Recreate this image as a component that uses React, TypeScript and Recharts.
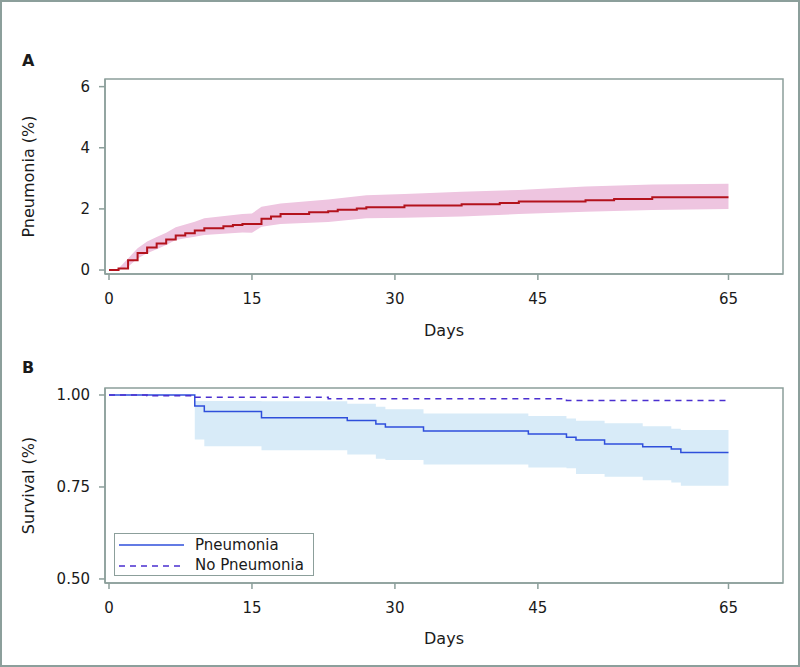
import {
  Area,
  ComposedChart,
  Line,
  ReferenceArea,
  XAxis,
  YAxis,
} from "recharts";

// Panel A: cumulative incidence of pneumonia (%), step curve + CI band
const A_DAYS = [0, 1, 2, 3, 4, 5, 6, 7, 8, 9, 10, 12, 13, 14, 16, 17, 18, 21, 23, 24, 26, 27, 31, 37, 41, 43, 50, 53, 57, 65];
const A_PCT = [0, 0.05, 0.32, 0.56, 0.74, 0.87, 1.0, 1.13, 1.2, 1.29, 1.37, 1.43, 1.47, 1.51, 1.68, 1.75, 1.83, 1.89, 1.92, 1.97, 2.01, 2.05, 2.11, 2.15, 2.19, 2.24, 2.28, 2.32, 2.38, 2.38];

const A_BAND_DAYS = [1, 2, 3, 4, 5, 6, 7, 8, 9, 10, 14, 15, 16, 18, 23, 27, 31, 37, 43, 50, 57, 65];
const A_BAND_LO = [0, 0.11, 0.38, 0.55, 0.68, 0.82, 0.98, 1.04, 1.09, 1.15, 1.23, 1.22, 1.42, 1.51, 1.57, 1.69, 1.71, 1.75, 1.83, 1.91, 1.96, 2.0];
const A_BAND_HI = [0.05, 0.38, 0.71, 0.93, 1.08, 1.22, 1.4, 1.49, 1.58, 1.69, 1.83, 1.85, 2.07, 2.18, 2.31, 2.45, 2.49, 2.56, 2.62, 2.73, 2.8, 2.82];

// Panel B: survival, pneumonia vs no pneumonia
const B_PNEU_DAYS = [0, 9, 10, 16, 25, 28, 29, 33, 44, 48, 49, 52, 56, 59, 60, 65];
const B_PNEU_SURV = [1.0, 0.97, 0.955, 0.938, 0.931, 0.921, 0.913, 0.902, 0.894, 0.885, 0.878, 0.867, 0.859, 0.853, 0.844, 0.844];

const B_BAND_DAYS = [9, 10, 16, 25, 28, 29, 33, 44, 48, 49, 52, 56, 59, 60, 65];
const B_BAND_LO = [0.879, 0.861, 0.85, 0.838, 0.827, 0.823, 0.811, 0.803, 0.801, 0.785, 0.778, 0.768, 0.762, 0.753, 0.753];
const B_BAND_HI = [0.984, 0.984, 0.983, 0.976, 0.968, 0.961, 0.95, 0.943, 0.936, 0.93, 0.923, 0.915, 0.908, 0.905, 0.905];

const B_NOPNEU_DAYS = [0, 4, 9, 23, 48, 65];
const B_NOPNEU_SURV = [1.0, 0.998, 0.994, 0.99, 0.985, 0.985];

const SERIES_NAMES = ["Pneumonia", "No Pneumonia"];

const X_TICKS = [0, 15, 30, 45, 65];
const A_TICKS = [0, 2, 4, 6];
const B_TICKS = [0.5, 0.75, 1.0];

const X_DOMAIN: [number, number] = [-0.42, 70.72];
const A_DOMAIN: [number, number] = [-0.13, 6.25];
const B_DOMAIN: [number, number] = [0.489, 1.019];

const AXIS = "#8c9f9b";
const TEXT = "#1a1a1a";
const RED = "#b3121c";
const PINK = "#eec5e0";
const BLUE = "#2f4fdb";
const PURPLE = "#4a2fd0";
const SKY = "#d8ebf8";
const FONT = "'DejaVu Sans', Verdana, sans-serif";
const DASH = "6 5";

const aLine = A_DAYS.map((day, i) => ({ day, pct: A_PCT[i] }));
const aBand = A_BAND_DAYS.map((day, i) => ({ day, lo: A_BAND_LO[i], hi: A_BAND_HI[i] }));
const bPneu = B_PNEU_DAYS.map((day, i) => ({ day, surv: B_PNEU_SURV[i] }));
const bBand = B_BAND_DAYS.map((day, i) => ({ day, lo: B_BAND_LO[i], hi: B_BAND_HI[i] }));
const bNo = B_NOPNEU_DAYS.map((day, i) => ({ day, surv: B_NOPNEU_SURV[i] }));

const tickStyle = { fill: TEXT, fontSize: 15, fontFamily: FONT };

function xAxis(height: number, offset: number) {
  return (
    <XAxis
      type="number"
      dataKey="day"
      domain={X_DOMAIN}
      ticks={X_TICKS}
      interval={0}
      allowDataOverflow
      tickSize={6}
      tickMargin={13}
      height={height}
      axisLine={{ stroke: AXIS, strokeWidth: 1.5 }}
      tickLine={{ stroke: AXIS, strokeWidth: 1.5 }}
      tick={tickStyle}
      label={{
        value: "Days",
        position: "insideBottom",
        offset,
        style: { fill: TEXT, fontSize: 16, fontFamily: FONT },
      }}
    />
  );
}

function yAxis(domain: [number, number], ticks: number[], title: string, fmt?: (v: number) => string) {
  return (
    <YAxis
      type="number"
      domain={domain}
      ticks={ticks}
      interval={0}
      allowDataOverflow
      width={105}
      tickSize={6}
      tickMargin={9}
      tickFormatter={fmt}
      axisLine={{ stroke: AXIS, strokeWidth: 1.5 }}
      tickLine={{ stroke: AXIS, strokeWidth: 1.5 }}
      tick={tickStyle}
      label={{
        value: title,
        angle: -90,
        position: "insideLeft",
        offset: 28,
        style: { textAnchor: "middle", fill: TEXT, fontSize: 16, fontFamily: FONT },
      }}
    />
  );
}

function PanelA() {
  return (
    <ComposedChart
      width={800}
      height={340}
      margin={{ top: 79, right: 17, bottom: 0, left: 0 }}
      style={{ fontFamily: FONT }}
    >
      {xAxis(66, 4)}
      {yAxis(A_DOMAIN, A_TICKS, "Pneumonia (%)")}
      <Area
        data={aBand}
        dataKey={(d: any) => [d.lo, d.hi]}
        type="linear"
        stroke="none"
        fill={PINK}
        fillOpacity={1}
        isAnimationActive={false}
      />
      <Line
        data={aLine}
        dataKey="pct"
        type="stepAfter"
        stroke={RED}
        strokeWidth={2}
        dot={false}
        isAnimationActive={false}
      />
      <ReferenceArea
        x1={X_DOMAIN[0]}
        x2={X_DOMAIN[1]}
        y1={A_DOMAIN[0]}
        y2={A_DOMAIN[1]}
        fill="none"
        stroke={AXIS}
        strokeWidth={1.5}
      />
    </ComposedChart>
  );
}

function PanelB() {
  return (
    <ComposedChart
      width={800}
      height={317}
      margin={{ top: 38, right: 17, bottom: 0, left: 0 }}
      style={{ fontFamily: FONT }}
    >
      {xAxis(84, 23)}
      {yAxis(B_DOMAIN, B_TICKS, "Survival (%)", (v: number) => v.toFixed(2))}
      <Area
        data={bBand}
        dataKey={(d: any) => [d.lo, d.hi]}
        type="stepAfter"
        stroke="none"
        fill={SKY}
        fillOpacity={1}
        isAnimationActive={false}
      />
      <Line
        data={bPneu}
        dataKey="surv"
        name={SERIES_NAMES[0]}
        type="stepAfter"
        stroke={BLUE}
        strokeWidth={1.5}
        dot={false}
        isAnimationActive={false}
      />
      <Line
        data={bNo}
        dataKey="surv"
        name={SERIES_NAMES[1]}
        type="stepAfter"
        stroke={PURPLE}
        strokeWidth={1.5}
        strokeDasharray={DASH}
        dot={false}
        isAnimationActive={false}
      />
      <ReferenceArea
        x1={X_DOMAIN[0]}
        x2={X_DOMAIN[1]}
        y1={B_DOMAIN[0]}
        y2={B_DOMAIN[1]}
        fill="none"
        stroke={AXIS}
        strokeWidth={1.5}
      />
    </ComposedChart>
  );
}

function LegendBox() {
  const items = [
    { name: SERIES_NAMES[0], color: BLUE, dash: undefined },
    { name: SERIES_NAMES[1], color: PURPLE, dash: DASH },
  ];
  return (
    <div
      style={{
        position: "absolute",
        left: 112,
        top: 531,
        boxSizing: "border-box",
        width: 200,
        height: 43,
        border: `1.5px solid ${AXIS}`,
        background: "#fff",
        paddingTop: 1,
      }}
    >
      {items.map((p) => (
        <div
          key={p.name}
          style={{ display: "flex", alignItems: "center", height: 20.5, fontSize: 15, color: TEXT, lineHeight: 1 }}
        >
          <svg width={80} height={20} style={{ display: "block", flex: "none" }}>
            <line x1={4} x2={69} y1={10} y2={10} stroke={p.color} strokeWidth={1.5} strokeDasharray={p.dash} />
          </svg>
          <span>{p.name}</span>
        </div>
      ))}
    </div>
  );
}

export default function App() {
  const panelLetter = {
    position: "absolute" as const,
    left: 20,
    fontSize: 16,
    fontWeight: 700,
    color: TEXT,
    lineHeight: 1,
  };
  return (
    <div
      style={{
        position: "absolute",
        left: 0,
        top: 0,
        width: 800,
        height: 667,
        boxSizing: "border-box",
        border: `2px solid ${AXIS}`,
        background: "#fff",
        fontFamily: FONT,
        overflow: "hidden",
      }}
    >
      <div style={{ position: "absolute", left: -2, top: -2 }}>
        <PanelA />
      </div>
      <div style={{ position: "absolute", left: -2, top: 348 }}>
        <PanelB />
      </div>
      <LegendBox />
      <div style={{ ...panelLetter, top: 51 }}>A</div>
      <div style={{ ...panelLetter, top: 358 }}>B</div>
    </div>
  );
}
